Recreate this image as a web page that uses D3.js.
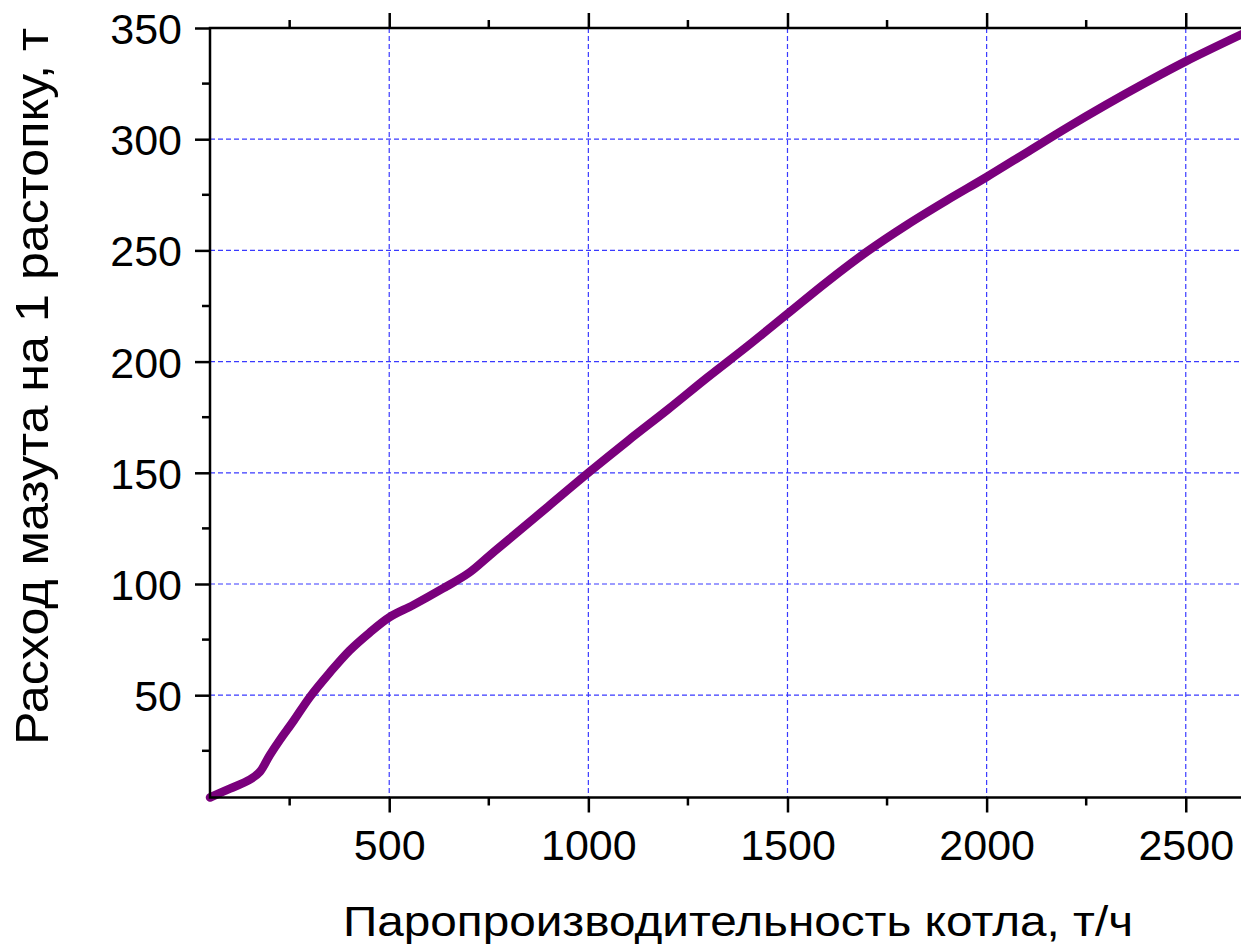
<!DOCTYPE html>
<html>
<head>
<meta charset="utf-8">
<script src="https://cdn.jsdelivr.net/npm/d3@7/dist/d3.min.js"></script>
<style>
  html, body { margin: 0; padding: 0; background: #fff; }
  svg { display: block; }
  text { font-family: "Liberation Sans", Arial, sans-serif; fill: #000; }
</style>
</head>
<body>
<svg id="chart" width="1241" height="944"></svg>
<script>
// Steam output of the boiler, t/h
const steamOutput = [50, 100, 150, 175, 200, 226, 260, 300, 350, 400, 450, 500, 560, 635, 700, 750, 800,
  900, 1000, 1100, 1200, 1300, 1400, 1500, 1600, 1700, 1800, 1900, 2000, 2100, 2200, 2300, 2400, 2500, 2650];
// Fuel oil consumed per start-up, t
const oilPerStartup = [4, 8, 12, 15.5, 23, 30, 38.5, 49, 60, 70, 78, 85, 90.5, 98, 105, 112.5, 120,
  135, 150, 164.5, 178.5, 193, 207, 221.5, 236, 249.5, 261.5, 272.5, 283, 294, 305, 315.5, 325.5, 335, 348];

const xMajorTicks = [500, 1000, 1500, 2000, 2500];
const xMinorTicks = [250, 750, 1250, 1750, 2250];
const yMajorTicks = [50, 100, 150, 200, 250, 300, 350];
const yMinorTicks = [25, 75, 125, 175, 225, 275, 325];

const xTitle = "Паропроизводительность котла, т/ч";
const yTitle = "Расход мазута на 1 растопку, т";

const svg = d3.select("#chart");
const plotL = 210, plotR = 1245.5, plotT = 28, plotB = 797.5;
const x = d3.scaleLinear().domain([50, 2650]).range([plotL, plotR]);
const y = d3.scaleLinear().domain([4, 350]).range([plotB, plotT]);

const majorLen = 15, minorLen = 8, fontSize = 43;

// grid
const grid = svg.append("g").attr("stroke", "#3a3aff").attr("stroke-width", 1.2)
  .attr("stroke-dasharray", "5,3");
grid.selectAll("line.gx").data(xMajorTicks).join("line")
  .attr("x1", d => x(d)).attr("x2", d => x(d)).attr("y1", plotT).attr("y2", plotB);
grid.selectAll("line.gy").data(yMajorTicks.filter(d => d < 350)).join("line")
  .attr("y1", d => y(d)).attr("y2", d => y(d)).attr("x1", plotL).attr("x2", plotR);

// curve
const pts = steamOutput.map((v, i) => [v, oilPerStartup[i]]);
const line = d3.line().x(d => x(d[0])).y(d => y(d[1])).curve(d3.curveCatmullRom.alpha(0.5));
svg.append("path").datum(pts).attr("d", line)
  .attr("fill", "none").attr("stroke", "#7a007c").attr("stroke-width", 8.5)
  .attr("stroke-linecap", "round").attr("stroke-linejoin", "round");

// axes: bottom/left with outward ticks, top/right with inward ticks
const axisStroke = 2.5;
function tickAxis(orient, scale, pos, major, minor, showLabels) {
  const horiz = orient === "bottom" || orient === "top";
  const g = svg.append("g").attr("transform", horiz ? `translate(0,${pos})` : `translate(${pos},0)`);
  const ax = horiz ? d3.axisBottom(scale) : d3.axisLeft(scale);
  const len = (orient === "top" || orient === "right") ? -majorLen : majorLen;
  ax.tickValues(major).tickSizeOuter(0).tickSizeInner(len)
    .tickPadding(14).tickFormat(showLabels ? d3.format("d") : () => "");
  g.call(ax);
  g.select(".domain").remove();
  g.selectAll(".tick line").attr("stroke", "#000").attr("stroke-width", axisStroke);
  g.selectAll(".tick text").attr("font-size", fontSize)
    .attr("font-family", "Liberation Sans, Arial, sans-serif").attr("fill", "#000");
  // minor ticks
  const mLen = (orient === "top" || orient === "right") ? -minorLen : minorLen;
  g.selectAll("line.minor").data(minor).join("line").attr("class", "minor")
    .attr("stroke", "#000").attr("stroke-width", axisStroke)
    .each(function (v) {
      const l = d3.select(this), p = scale(v);
      if (horiz) l.attr("x1", p).attr("x2", p).attr("y1", 0).attr("y2", mLen);
      else l.attr("y1", p).attr("y2", p).attr("x1", 0).attr("x2", -mLen);
    });
  return g;
}
const bAx = tickAxis("bottom", x, plotB, xMajorTicks, xMinorTicks, true);
bAx.selectAll(".tick text").attr("y", 62).attr("dy", null);
tickAxis("top", x, plotT, xMajorTicks, xMinorTicks, false);
const lAx = tickAxis("left", y, plotL, yMajorTicks, yMinorTicks, true);
lAx.selectAll(".tick text").attr("x", -28).attr("dy", "0.36em");
tickAxis("right", y, plotR, yMajorTicks, yMinorTicks, false);

// frame
svg.append("rect").attr("x", plotL).attr("y", plotT).attr("width", plotR - plotL).attr("height", plotB - plotT)
  .attr("fill", "none").attr("stroke", "#000").attr("stroke-width", axisStroke);

// titles
svg.append("text").attr("x", 738).attr("y", 936).attr("text-anchor", "middle")
  .attr("font-size", fontSize).attr("textLength", 790).attr("lengthAdjust", "spacingAndGlyphs")
  .text(xTitle);
svg.append("text").attr("transform", "translate(48,386.5) rotate(-90)").attr("text-anchor", "middle")
  .attr("font-size", 46).attr("textLength", 717).attr("lengthAdjust", "spacingAndGlyphs")
  .text(yTitle);
</script>
</body>
</html>
